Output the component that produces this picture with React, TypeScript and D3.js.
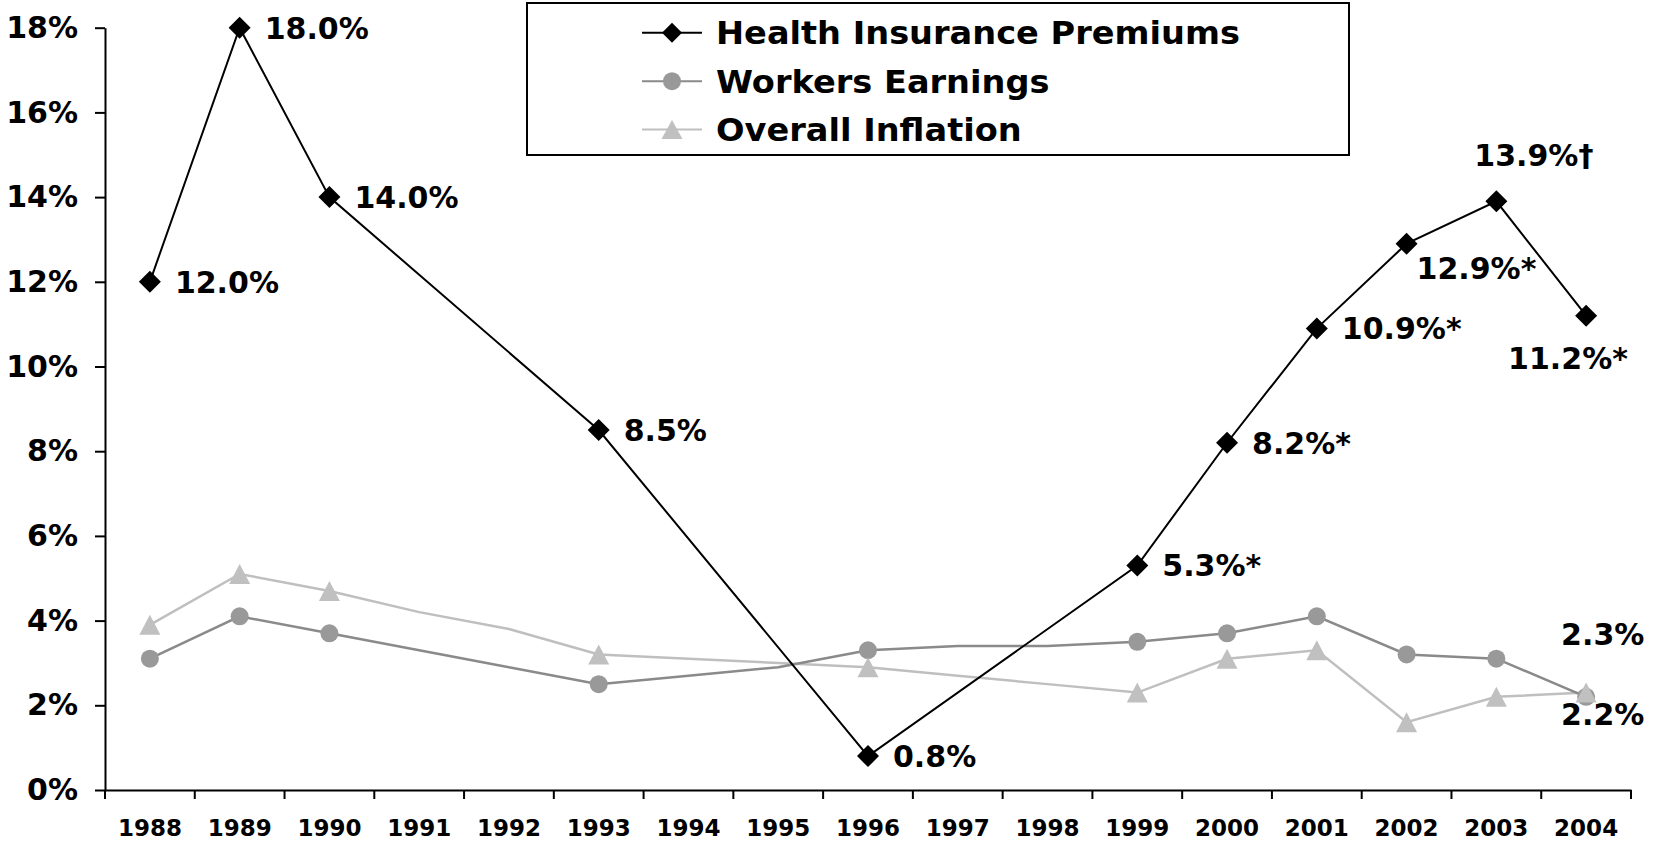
import React, { useEffect, useRef } from 'react';
import * as d3 from 'd3';

const years = ['1988','1989','1990','1991','1992','1993','1994','1995','1996','1997','1998','1999','2000','2001','2002','2003','2004'];
const premiums: (number | null)[] = [12.0, 18.0, 14.0, null, null, 8.5, null, null, 0.8, null, null, 5.3, 8.2, 10.9, 12.9, 13.9, 11.2];
const premiumLabels: (string | null)[] = ['12.0%','18.0%','14.0%',null,null,'8.5%',null,null,'0.8%',null,null,'5.3%*','8.2%*','10.9%*','12.9%*','13.9%†','11.2%*'];
const earnings = [3.1, 4.1, 3.7, 3.3, 2.9, 2.5, 2.7, 2.9, 3.3, 3.4, 3.4, 3.5, 3.7, 4.1, 3.2, 3.1, 2.2];
const inflation = [3.9, 5.1, 4.7, 4.2, 3.8, 3.2, 3.1, 3.0, 2.9, 2.7, 2.5, 2.3, 3.1, 3.3, 1.6, 2.2, 2.3];
const markerYears = ['1988','1989','1990','1993','1996','1999','2000','2001','2002','2003','2004'];
const earningsEndLabel = '2.2%';
const inflationEndLabel = '2.3%';
const yTicks = [0, 2, 4, 6, 8, 10, 12, 14, 16, 18];
const seriesNames = ['Health Insurance Premiums', 'Workers Earnings', 'Overall Inflation'];

const W = 1656, H = 843;
const FONT = '"DejaVu Sans", Verdana, sans-serif';
const C_PREM = '#000000', C_EARN_LINE = '#8a8a8a', C_EARN_MARK = '#999999', C_INF_LINE = '#bfbfbf', C_INF_MARK = '#c0c0c0';

const diamondPath = (s: number) => `M0,${-s}L${s},0L0,${s}L${-s},0Z`;
const trianglePath = (w: number, h: number) => `M0,${-h / 2}L${w / 2},${h / 2}L${-w / 2},${h / 2}Z`;

export default function App() {
  const ref = useRef<SVGSVGElement>(null);
  useEffect(() => {
    const svg = d3.select(ref.current);
    svg.selectAll('*').remove();

    const x = d3.scaleBand<string>().domain(years).range([105, 1631]).padding(0);
    const y = d3.scaleLinear().domain([0, 18]).range([790, 27.7]);
    const cx = (yr: string) => (x(yr) as number) + x.bandwidth() / 2;

    // Y axis
    const yAxis = d3.axisLeft(y).tickValues(yTicks).tickSize(10).tickSizeOuter(0).tickPadding(17)
      .tickFormat((d) => `${d}%`);
    const gy = svg.append('g').attr('transform', 'translate(105,0)').call(yAxis as any);
    gy.selectAll('path,line').attr('stroke', '#000').attr('stroke-width', 2);
    gy.selectAll('text').attr('font-family', FONT).attr('font-weight', 'bold').attr('font-size', 30).attr('fill', '#000');

    // X axis (labels at band centres, ticks at band boundaries)
    const xAxis = d3.axisBottom(x).tickSize(0).tickSizeOuter(0).tickPadding(30);
    const gx = svg.append('g').attr('transform', 'translate(0,790)').call(xAxis as any);
    gx.select('path').attr('stroke', '#000').attr('stroke-width', 2);
    gx.selectAll('text').attr('font-family', FONT).attr('font-weight', 'bold').attr('font-size', 23).attr('fill', '#000');
    const bounds = years.map((yr) => x(yr) as number).concat([x.range()[1]]);
    svg.append('g').selectAll('line').data(bounds).join('line')
      .attr('x1', (d) => d).attr('x2', (d) => d).attr('y1', 790).attr('y2', 799)
      .attr('stroke', '#000').attr('stroke-width', 2);

    const lineGen = d3.line<[string, number]>().x((d) => cx(d[0])).y((d) => y(d[1]));

    // Overall Inflation
    const infData: [string, number][] = years.map((yr, i) => [yr, inflation[i]]);
    svg.append('path').attr('d', lineGen(infData) as string).attr('fill', 'none')
      .attr('stroke', C_INF_LINE).attr('stroke-width', 2.5);
    // Workers Earnings
    const earnData: [string, number][] = years.map((yr, i) => [yr, earnings[i]]);
    svg.append('path').attr('d', lineGen(earnData) as string).attr('fill', 'none')
      .attr('stroke', C_EARN_LINE).attr('stroke-width', 2.5);

    svg.append('g').selectAll('circle').data(earnData.filter((d) => markerYears.includes(d[0]))).join('circle')
      .attr('cx', (d) => cx(d[0])).attr('cy', (d) => y(d[1])).attr('r', 9).attr('fill', C_EARN_MARK);
    svg.append('g').selectAll('path').data(infData.filter((d) => markerYears.includes(d[0]))).join('path')
      .attr('d', trianglePath(21, 20))
      .attr('transform', (d) => `translate(${cx(d[0])},${y(d[1])})`).attr('fill', C_INF_MARK);

    // Premiums
    const premData: [string, number][] = years.map((yr, i) => [yr, premiums[i]] as [string, number | null])
      .filter((d) => d[1] !== null) as [string, number][];
    svg.append('path').attr('d', lineGen(premData) as string).attr('fill', 'none')
      .attr('stroke', C_PREM).attr('stroke-width', 2);
    svg.append('g').selectAll('path').data(premData).join('path')
      .attr('d', diamondPath(11))
      .attr('transform', (d) => `translate(${cx(d[0])},${y(d[1])})`).attr('fill', C_PREM);

    // Premium labels
    const place = (yr: string): [number, number] => {
      if (yr === '2002') return [10, 25];
      if (yr === '2003') return [-22, -46];
      if (yr === '2004') return [-78, 43];
      return [25, 0];
    };
    const labelData = years.map((yr, i) => ({ yr, v: premiums[i], t: premiumLabels[i] })).filter((d) => d.t !== null);
    svg.append('g').selectAll('text').data(labelData).join('text')
      .attr('x', (d) => cx(d.yr) + place(d.yr)[0])
      .attr('y', (d) => y(d.v as number) + place(d.yr)[1])
      .attr('dy', '0.36em')
      .attr('font-family', FONT).attr('font-weight', 'bold').attr('font-size', 30).attr('fill', '#000')
      .text((d) => d.t as string);

    // End labels for earnings and inflation
    const last = years[years.length - 1];
    const endLabels = [
      { t: inflationEndLabel, v: inflation[inflation.length - 1], dy: -58 },
      { t: earningsEndLabel, v: earnings[earnings.length - 1], dy: 17 },
    ];
    svg.append('g').selectAll('text').data(endLabels).join('text')
      .attr('x', cx(last) - 25)
      .attr('y', (d) => y(d.v) + d.dy)
      .attr('dy', '0.36em')
      .attr('font-family', FONT).attr('font-weight', 'bold').attr('font-size', 30).attr('fill', '#000')
      .text((d) => d.t);

    // Legend
    const lg = svg.append('g');
    lg.append('rect').attr('x', 527).attr('y', 3).attr('width', 822).attr('height', 152)
      .attr('fill', '#fff').attr('stroke', '#000').attr('stroke-width', 2);
    const rows = [32.7, 81.2, 129.5];
    const styles = [
      { line: C_PREM, mark: C_PREM, shape: 'diamond' },
      { line: C_EARN_LINE, mark: C_EARN_MARK, shape: 'circle' },
      { line: C_INF_LINE, mark: C_INF_MARK, shape: 'triangle' },
    ];
    seriesNames.forEach((name, i) => {
      const ry = rows[i];
      lg.append('line').attr('x1', 642).attr('x2', 702).attr('y1', ry).attr('y2', ry)
        .attr('stroke', styles[i].line).attr('stroke-width', 2);
      if (styles[i].shape === 'diamond') {
        lg.append('path').attr('d', diamondPath(10)).attr('transform', `translate(672,${ry})`).attr('fill', styles[i].mark);
      } else if (styles[i].shape === 'circle') {
        lg.append('circle').attr('cx', 672).attr('cy', ry).attr('r', 9).attr('fill', styles[i].mark);
      } else {
        lg.append('path').attr('d', trianglePath(21, 19)).attr('transform', `translate(672,${ry})`).attr('fill', styles[i].mark);
      }
      lg.append('text').attr('x', 0).attr('y', 0).attr('dy', '0.36em')
        .attr('transform', `translate(716,${ry}) scale(1.05,1)`)
        .attr('font-family', FONT).attr('font-weight', 'bold').attr('font-size', 32).attr('fill', '#000')
        .text(name);
    });
  }, []);

  return (
    <svg ref={ref} width={W} height={H} viewBox={`0 0 ${W} ${H}`}
      style={{ position: 'absolute', left: 0, top: 0, background: '#fff' }} />
  );
}
